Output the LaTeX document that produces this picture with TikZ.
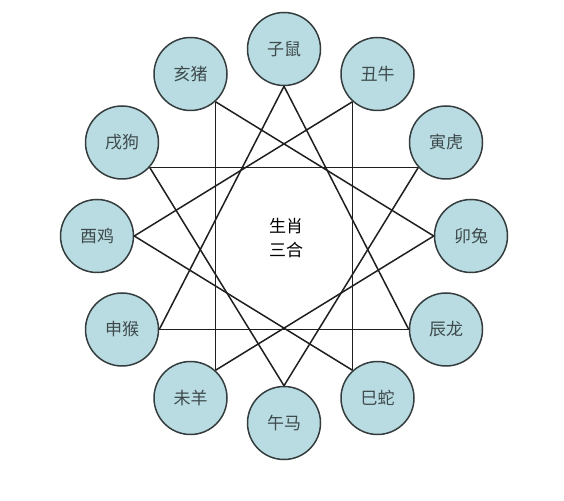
\documentclass[tikz,border=0pt]{standalone}
\usepackage{fontspec}
\usepackage{tikz}
\newfontfamily\cjk{Noto Sans CJK SC}

\definecolor{ballfill}{RGB}{184,220,225}
\definecolor{balldraw}{RGB}{52,60,62}
\definecolor{balltext}{RGB}{62,74,76}

\begin{document}
\begin{tikzpicture}[x=1pt, y=1pt,
  animal/.style={circle, draw=balldraw, line width=1.5pt, fill=ballfill,
    minimum size=73pt, inner sep=0pt, text=balltext,
    font=\cjk\fontsize{17}{20}\selectfont},
  link/.style={line width=1.5pt, black!88}]

 \useasboundingbox (0,0) rectangle (564,500);

 %%%  nodes

 % the twelve animals
 \node [animal] (zi)   at (284,451)   {子鼠};
 \node [animal] (chou) at (377.5,426) {丑牛};
 \node [animal] (yin)  at (446,357.5) {寅虎};
 \node [animal] (mao)  at (471,264)   {卯兔};
 \node [animal] (chen) at (446,170.5) {辰龙};
 \node [animal] (si)   at (377.5,102) {巳蛇};
 \node [animal] (wu)   at (284,77)    {午马};
 \node [animal] (wei)  at (190.5,102) {未羊};
 \node [animal] (shen) at (122,170.5) {申猴};
 \node [animal] (you)  at (97,264)    {酉鸡};
 \node [animal] (xu)   at (122,357.5) {戌狗};
 \node [animal] (hai)  at (190.5,426) {亥猪};

 % centre
 \node [align=center, font=\cjk\fontsize{17}{24}\selectfont] (title) at (286,262) {生肖\\三合};

 %%%  triangles

 % shen zi chen
 \draw [link] (zi.south) to (shen.east);
 \draw [link] (shen.east) to (chen.west);
 \draw [link] (chen.west) to (zi.south);

 % hai mao wei
 \draw [link] (hai.-48) to (mao.west);
 \draw [link] (mao.west) to (wei.48);
 \draw [link] (wei.48) to (hai.-48);

 % yin wu xu
 \draw [link] (xu.-42) to (yin.-138);
 \draw [link] (yin.-138) to (wu.north);
 \draw [link] (wu.north) to (xu.-42);

 % si you chou
 \draw [link] (chou.-132) to (you.east);
 \draw [link] (you.east) to (si.132);
 \draw [link] (si.132) to (chou.-132);

\end{tikzpicture}
\end{document}
